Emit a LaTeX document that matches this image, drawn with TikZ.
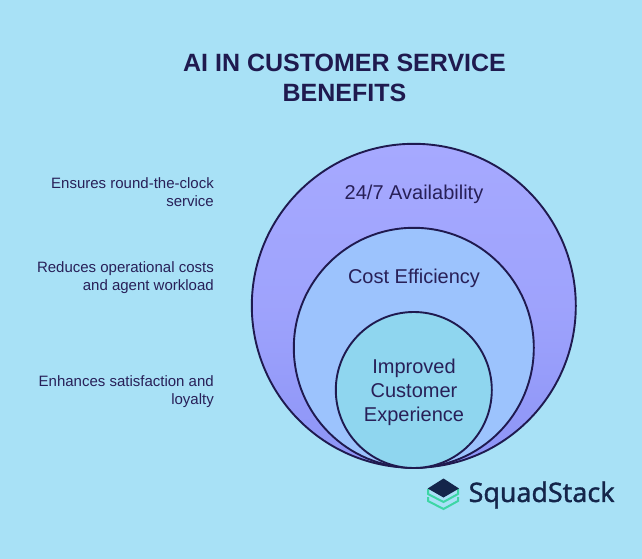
\documentclass[tikz,border=0pt]{standalone}
\usepackage{fontspec}
\setmainfont{Liberation Sans}
\newfontfamily\logofont[FakeBold=1.2]{Noto Sans}
\definecolor{bgc}{HTML}{A8E1F6}
\definecolor{ink}{HTML}{1F1A4F}
\definecolor{txt}{HTML}{282058}
\definecolor{outertop}{HTML}{A6A9FF}
\definecolor{outerbot}{HTML}{8C94F6}
\definecolor{midc}{HTML}{9CC3FD}
\definecolor{innerc}{HTML}{8FD6EF}
\definecolor{logodark}{HTML}{14254A}
\definecolor{logogreen}{HTML}{3DD6A5}
\tikzset{
  ring/.style={draw=ink,line width=1.9pt},
  ringlabel/.style={text=txt,font=\fontsize{20}{24}\selectfont,align=center,inner sep=0pt,anchor=center},
  sidelabel/.style={text=txt,font=\fontsize{15}{18}\selectfont,align=right,inner sep=0pt,anchor=east},
  chevron/.style={draw=logogreen,line width=2pt,line join=miter,fill=none}
}
\begin{document}
\begin{tikzpicture}[x=1pt,y=-1pt]
\useasboundingbox (0,0) rectangle (642,559);
\fill[bgc] (0,0) rectangle (642,559);
\node[inner sep=0pt,align=center,text=ink,font=\fontsize{25}{30}\bfseries\selectfont] (title) at (344.5,77.8) {AI IN CUSTOMER SERVICE\\BENEFITS};
\shade[top color=outertop,bottom color=outerbot,middle color=outertop!70!outerbot] (413.8,305.8) circle [radius=162];
\draw[ring] (413.8,305.8) circle [radius=162];
\draw[ring,fill=midc] (413.8,347.8) circle [radius=120];
\draw[ring,fill=innerc] (413.8,390) circle [radius=78];
\node[ringlabel] (avail) at (414,194.3) {24/7 Availability};
\node[ringlabel] (cost) at (414,278.3) {Cost Efficiency};
\node[ringlabel] (exp) at (414,392.3) {Improved\\Customer\\Experience};
\node[sidelabel] (s1) at (214,192) {Ensures round-the-clock\\service};
\node[sidelabel] (s2) at (214,277.6) {Reduces operational costs\\and agent workload};
\node[sidelabel] (s3) at (214,391.6) {Enhances satisfaction and\\loyalty};
\draw[chevron] (428,489) -- (428,494) -- (443.5,502) -- (458,494) -- (458,489);
\draw[chevron] (428,497) -- (428,501) -- (443.5,509) -- (458,501) -- (458,497);
\fill[logodark] (427.7,488.5) -- (443.5,478.5) -- (459,488.5) -- (443.5,497.5) -- cycle;
\node[inner sep=0pt,anchor=west,text=logodark,font=\logofont\fontsize{26.8}{30}\selectfont] (brand) at (468.5,495) {SquadStack};
\end{tikzpicture}
\end{document}
